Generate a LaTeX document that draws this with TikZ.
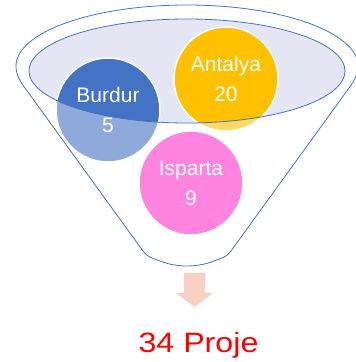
\documentclass[tikz,border=0pt]{standalone}
\usepackage{fontspec}
\setmainfont{Liberation Sans}
\definecolor{fblue}{HTML}{4472C4}
\definecolor{flav}{HTML}{E4E7F3}
\definecolor{fgold}{HTML}{FFC000}
\definecolor{fpink}{HTML}{FF33CC}
\definecolor{farrow}{HTML}{F8D0C4}
\definecolor{fred}{HTML}{FF0000}
\begin{document}
\begin{tikzpicture}[x=1bp,y=-1bp,
  bubble/.style={circle,minimum size=104bp,inner sep=0pt,draw=white,line width=1.5bp},
  bubbletext/.style={text=white,align=center,font=\fontsize{21bp}{30bp}\selectfont},
  outline/.style={draw=fblue,line width=0.8bp}]
\useasboundingbox (0,0) rectangle (356,362);
% inner opening fill
\fill[flav] (187,71) ellipse [x radius=158,y radius=52];
% bubbles
\node[bubble,fill=fblue] (burdur) at (108,110) {};
\node[bubble,fill=fgold] (antalya) at (226,79) {};
\node[bubble,fill=fpink] (isparta) at (191,183) {};
% funnel body veil
\fill[white,opacity=0.4,even odd rule] (0,0) rectangle (356,362) (187,71) ellipse [x radius=158,y radius=52];
% funnel outline
\draw[outline] (16,66) arc [start angle=180,end angle=360,x radius=171,y radius=61]
  .. controls (358,74) and (354.8,80) .. (349,88)
  -- (231,251) .. controls (227,257) and (222,258) .. (214,261)
  .. controls (204,265) and (194,266) .. (187,266)
  .. controls (180,266) and (170,265) .. (160,261)
  .. controls (152,258) and (147,257) .. (143,251)
  -- (25,88) .. controls (19.2,80) and (16,74) .. (16,66) -- cycle;
\draw[outline] (187,71) ellipse [x radius=158,y radius=52];
% labels
\node[bubbletext] (burdurT) at (burdur.center) {Burdur\\5};
\node[bubbletext] (antalyaT) at (antalya.center) {Antalya\\20};
\node[bubbletext] (ispartaT) at (isparta.center) {Isparta\\9};
% block arrow
\fill[farrow] (184,273) -- (205,273) -- (205,293) -- (213,293) -- (194.5,307) -- (176,293) -- (184,293) -- cycle;
\node[anchor=base,text=fred,font=\fontsize{28bp}{32bp}\selectfont,inner sep=0pt] (total) at (198.5,352) {\scalebox{1.15}[1]{34 Proje}};
\end{tikzpicture}
\end{document}
